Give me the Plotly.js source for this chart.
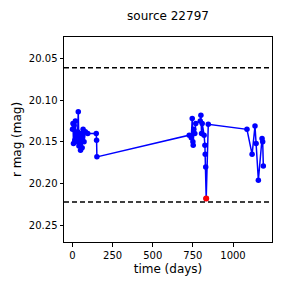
<!DOCTYPE html>
<html>
<head>
<meta charset="utf-8">
<script src="https://cdn.plot.ly/plotly-3.0.1.min.js"></script>
<style>html,body{margin:0;padding:0;background:#fff;}#chart{width:288px;height:288px;}</style>
</head>
<body>
<div id="chart"></div>
<script>
var times = [0, 3, 6, 10, 14, 18, 22, 27, 32, 36, 40, 45, 50, 55, 60, 66, 72, 80, 95, 148, 150, 152,
             727, 740, 746, 750, 752, 756, 762, 768, 796, 800, 804, 808, 820, 825, 827, 830, 833, 846,
             1087, 1119, 1137, 1144, 1158, 1181, 1185, 1189];
var mags = [20.135, 20.128, 20.152, 20.130, 20.148, 20.125, 20.142, 20.150, 20.138, 20.114, 20.155, 20.145, 20.160, 20.140, 20.157, 20.135, 20.150, 20.138, 20.140, 20.140, 20.148, 20.168,
            20.142, 20.145, 20.122, 20.150, 20.154, 20.135, 20.140, 20.128, 20.125, 20.118, 20.140, 20.128, 20.142, 20.154, 20.165, 20.180, 20.218, 20.129,
            20.135, 20.165, 20.131, 20.152, 20.196, 20.146, 20.150, 20.179];
var flaggedTimes = [833];
var flaggedMags = [20.218];
var upperLimit = 20.0613;
var lowerLimit = 20.222;
var titleText = "source 22797";
var xLabel = "time (days)";
var yLabel = "r mag (mag)";
var xTicks = [0, 250, 500, 750, 1000];
var yTicks = [20.05, 20.10, 20.15, 20.20, 20.25];

var font = "DejaVu Sans, sans-serif";
var traces = [
  {x: times, y: mags, type: "scatter", mode: "lines+markers",
   line: {color: "#0000ff", width: 1.5}, marker: {color: "#0000ff", size: 5.5}, hoverinfo: "none"},
  {x: flaggedTimes, y: flaggedMags, type: "scatter", mode: "markers",
   marker: {color: "#ff0000", size: 6}, hoverinfo: "none"}
];
var layout = {
  width: 288, height: 288,
  margin: {l: 64, r: 16, t: 37, b: 46, pad: 0},
  paper_bgcolor: "#fff", plot_bgcolor: "#fff",
  showlegend: false,
  font: {family: font, color: "#000", size: 10},
  title: {text: titleText, font: {family: font, size: 12, color: "#000"},
          x: 0.5833, xanchor: "center", xref: "container", y: 0.944, yanchor: "middle", yref: "container"},
  xaxis: {range: [-53, 1243], tickvals: xTicks, ticktext: xTicks.map(String),
          showgrid: false, zeroline: false, showline: true, linecolor: "#000", linewidth: 1, mirror: true,
          ticks: "outside", ticklen: 3.5, tickwidth: 1, tickcolor: "#000",
          tickfont: {family: font, size: 10, color: "#000"},
          title: {text: xLabel, font: {family: font, size: 12, color: "#000"}, standoff: 5}},
  yaxis: {range: [20.270, 20.0244], tickvals: yTicks, ticktext: yTicks.map(function(v){return v.toFixed(2);}),
          showgrid: false, zeroline: false, showline: true, linecolor: "#000", linewidth: 1, mirror: true,
          ticks: "outside", ticklen: 3.5, tickwidth: 1, tickcolor: "#000",
          tickfont: {family: font, size: 10, color: "#000"},
          title: {text: yLabel, font: {family: font, size: 12, color: "#000"}, standoff: 4}},
  shapes: [
    {type: "line", xref: "paper", x0: 0, x1: 1, yref: "y", y0: upperLimit, y1: upperLimit,
     line: {color: "#000", width: 1.5, dash: "5px,3px"}},
    {type: "line", xref: "paper", x0: 0, x1: 1, yref: "y", y0: lowerLimit, y1: lowerLimit,
     line: {color: "#000", width: 1.5, dash: "5px,3px"}}
  ]
};
Plotly.newPlot("chart", traces, layout, {staticPlot: true, displayModeBar: false});
</script>
</body>
</html>
